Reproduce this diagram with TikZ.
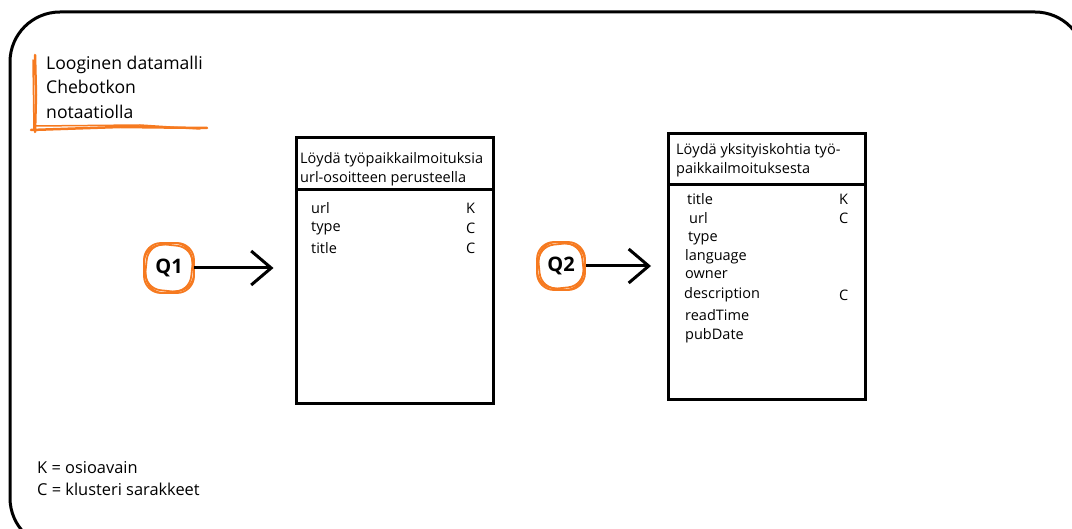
\documentclass[tikz,border=0pt]{standalone}
\usepackage{fontspec}
\setmainfont{Open Sans}
\usetikzlibrary{arrows.meta,positioning}

\definecolor{marker}{RGB}{246,122,32}

\begin{document}
\begin{tikzpicture}[x=1pt, y=-1pt, >={Straight Barb[length=20pt,width=34pt]},
                    every edge/.style={draw,line width=3pt,shorten >=1pt},
                    table/.style={draw,line width=3pt,minimum width=197pt,minimum height=266pt,inner sep=0pt},
                    head/.style={anchor=west,align=left,inner sep=0pt,font=\fontsize{14.5}{19.5}\selectfont},
                    field/.style={anchor=west,inner sep=0pt,font=\fontsize{14.5}{16}\selectfont},
                    qmark/.style={circle,minimum size=50pt,inner sep=0pt,font=\fontsize{20}{22}\selectfont\bfseries},
                    scribble/.style={draw=marker,line width=1.8pt,rounded corners=17pt}]

\useasboundingbox (0,0) rectangle (1072,529);

% outer frame
\draw[line width=3pt, rounded corners=50pt] (10,12) rectangle (1085,548);

% title
\node[anchor=west, inner sep=0pt, align=left, font=\fontsize{17.6}{24.5}\selectfont] (title) at (46,87)
  {Looginen datamalli\\Chebotkon\\notaatiolla};
\draw[marker, line width=2.5pt, line cap=round] (35,55) -- (36,95) -- (35,132);
\draw[marker, line width=1.5pt, line cap=round] (33,60) -- (34,130);
\draw[marker, line width=2.5pt, line cap=round] (31,130) -- (120,127) -- (207,128);
\draw[marker, line width=1.5pt, line cap=round] (36,126) -- (140,125) -- (200,129);

% Q1 and its table
\node[qmark] (q1) at (169,268) {Q1};
\foreach \a/\r in {0/25, 8/24, -6/23}
  \draw[scribble, rotate around={\a:(q1)}] (q1) ++(-\r,-\r) rectangle ++(2*\r,2*\r);

\node[table] (t1) at (394.5,271) {};
\draw[line width=3pt] (296,190) -- (493,190);
\node[head] (t1h) at (300,169) {Löydä työpaikkailmoituksia\\url-osoitteen perusteella};
\node[field] (t1a) at (311,208) {url};
\node[field] (t1b) at (311,228) {type};
\node[field] (t1c) at (311,248) {title};
\node[field] (t1ak) at (466,208) {K};
\node[field] (t1bk) at (466,228) {C};
\node[field] (t1ck) at (466,248) {C};

% Q2 and its table
\node[qmark] (q2) at (561,266) {Q2};
\foreach \a/\r in {0/24, -8/23, 6/22}
  \draw[scribble, rotate around={\a:(q2)}] (q2) ++(-\r,-\r) rectangle ++(2*\r,2*\r);

\node[table] (t2) at (767,267) {};
\draw[line width=3pt] (668,185) -- (866,185);
\node[head] (t2h) at (676,160) {Löydä yksityiskohtia työ-\\paikkailmoituksesta};
\node[field] (t2a) at (687,199) {title};
\node[field] (t2b) at (689,218) {url};
\node[field] (t2c) at (688,238) {type};
\node[field] (t2d) at (685,257) {language};
\node[field] (t2e) at (685,275) {owner};
\node[field] (t2f) at (684,295) {description};
\node[field] (t2g) at (685,315) {readTime};
\node[field] (t2h2) at (685,336) {pubDate};
\node[field] (t2ak) at (839,199) {K};
\node[field] (t2bk) at (839,218) {C};
\node[field] (t2fk) at (839,295) {C};

\path[->]
(q1) edge [shorten >=21pt] (q1 -| t1.west)
(q2) edge [shorten >=16pt] (q2 -| t2.west);

% legend
\node[anchor=west, inner sep=0pt, align=left, font=\fontsize{16.4}{22}\selectfont] (legend) at (37,479)
  {K = osioavain\\C = klusteri sarakkeet};
\end{tikzpicture}
\end{document}
